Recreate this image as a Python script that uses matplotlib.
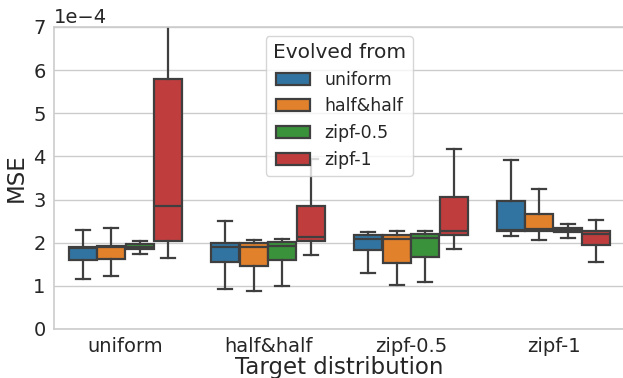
import matplotlib
matplotlib.use("Agg")
import matplotlib.pyplot as plt
from matplotlib.patches import Patch
from matplotlib.ticker import ScalarFormatter

targets = ["uniform", "half&half", "zipf-0.5", "zipf-1"]
evolved = ["uniform", "half&half", "zipf-0.5", "zipf-1"]
colors = ["#3274a1", "#e1812c", "#3a923a", "#c03d3e"]

# box stats per target, per evolved-from: (whislo, q1, med, q3, whishi), in units of 1e-4
stats_uniform = [
    (1.16, 1.60, 1.87, 1.91, 2.30),
    (1.24, 1.62, 1.90, 1.93, 2.34),
    (1.73, 1.86, 1.90, 1.96, 2.05),
    (1.64, 2.05, 2.85, 5.80, 7.60),
]
stats_halfhalf = [
    (0.92, 1.56, 1.90, 2.00, 2.50),
    (0.89, 1.45, 1.89, 1.99, 2.06),
    (1.00, 1.60, 1.93, 2.01, 2.08),
    (1.72, 2.03, 2.14, 2.86, 3.95),
]
stats_zipf05 = [
    (1.29, 1.82, 2.08, 2.18, 2.24),
    (1.01, 1.54, 2.08, 2.17, 2.27),
    (1.08, 1.68, 2.12, 2.20, 2.27),
    (1.86, 2.19, 2.27, 3.05, 4.17),
]
stats_zipf1 = [
    (2.16, 2.27, 2.30, 2.97, 3.91),
    (2.06, 2.28, 2.31, 2.66, 3.24),
    (2.12, 2.24, 2.30, 2.34, 2.44),
    (1.56, 1.95, 2.20, 2.27, 2.53),
]
all_stats = [stats_uniform, stats_halfhalf, stats_zipf05, stats_zipf1]

line_col = "#3f3f3f"
lw = 1.6

fig = plt.figure(figsize=(6.23, 3.78), dpi=100)
ax = fig.add_axes([54 / 623, 1 - 329 / 378, (625 - 54) / 623, (329 - 27) / 378])

width = 0.196
for i, group in enumerate(all_stats):
    for j, (lo, q1, med, q3, hi) in enumerate(group):
        st = dict(whislo=lo * 1e-4, q1=q1 * 1e-4, med=med * 1e-4,
                  q3=q3 * 1e-4, whishi=hi * 1e-4, fliers=[])
        pos = i + (j - 1.5) * 0.2
        ax.bxp([st], positions=[pos], widths=width, patch_artist=True,
               showfliers=False, manage_ticks=False,
               boxprops=dict(facecolor=colors[j], edgecolor=line_col, linewidth=lw),
               medianprops=dict(color=line_col, linewidth=lw),
               whiskerprops=dict(color=line_col, linewidth=lw),
               capprops=dict(color=line_col, linewidth=lw))

ax.set_xlim(-0.5, 3.5)
ax.set_ylim(0, 7e-4)
ax.set_xticks(range(len(targets)))
ax.set_xticklabels(targets)

fmt = ScalarFormatter(useMathText=False)
fmt.set_powerlimits((-3, 3))
ax.yaxis.set_major_formatter(fmt)
ax.yaxis.get_offset_text().set_fontsize(14)
ax.yaxis.get_offset_text().set_color("#262626")

ax.tick_params(axis="both", labelsize=14, colors="#262626", length=0, pad=6)
ax.grid(axis="y", color="#cccccc", linewidth=1)
ax.set_axisbelow(True)
for s in ax.spines.values():
    s.set_color("#cccccc")
    s.set_linewidth(1.2)

ax.set_ylabel("MSE", fontsize=16.5, color="#262626", labelpad=4)
ax.set_xlabel("Target distribution", fontsize=16.5, color="#262626", labelpad=0)

handles = [Patch(facecolor=c, edgecolor=line_col, linewidth=lw, label=l)
           for c, l in zip(colors, evolved)]
leg = ax.legend(handles=handles, title="Evolved from", loc="upper left",
                bbox_to_anchor=(0.371, 0.97), borderaxespad=0, fontsize=12.5,
                title_fontsize=14.5, framealpha=0.8, edgecolor="#cccccc")
for t in leg.get_texts():
    t.set_color("#262626")
leg.get_title().set_color("#262626")

fig.savefig("out.png", dpi=100)
